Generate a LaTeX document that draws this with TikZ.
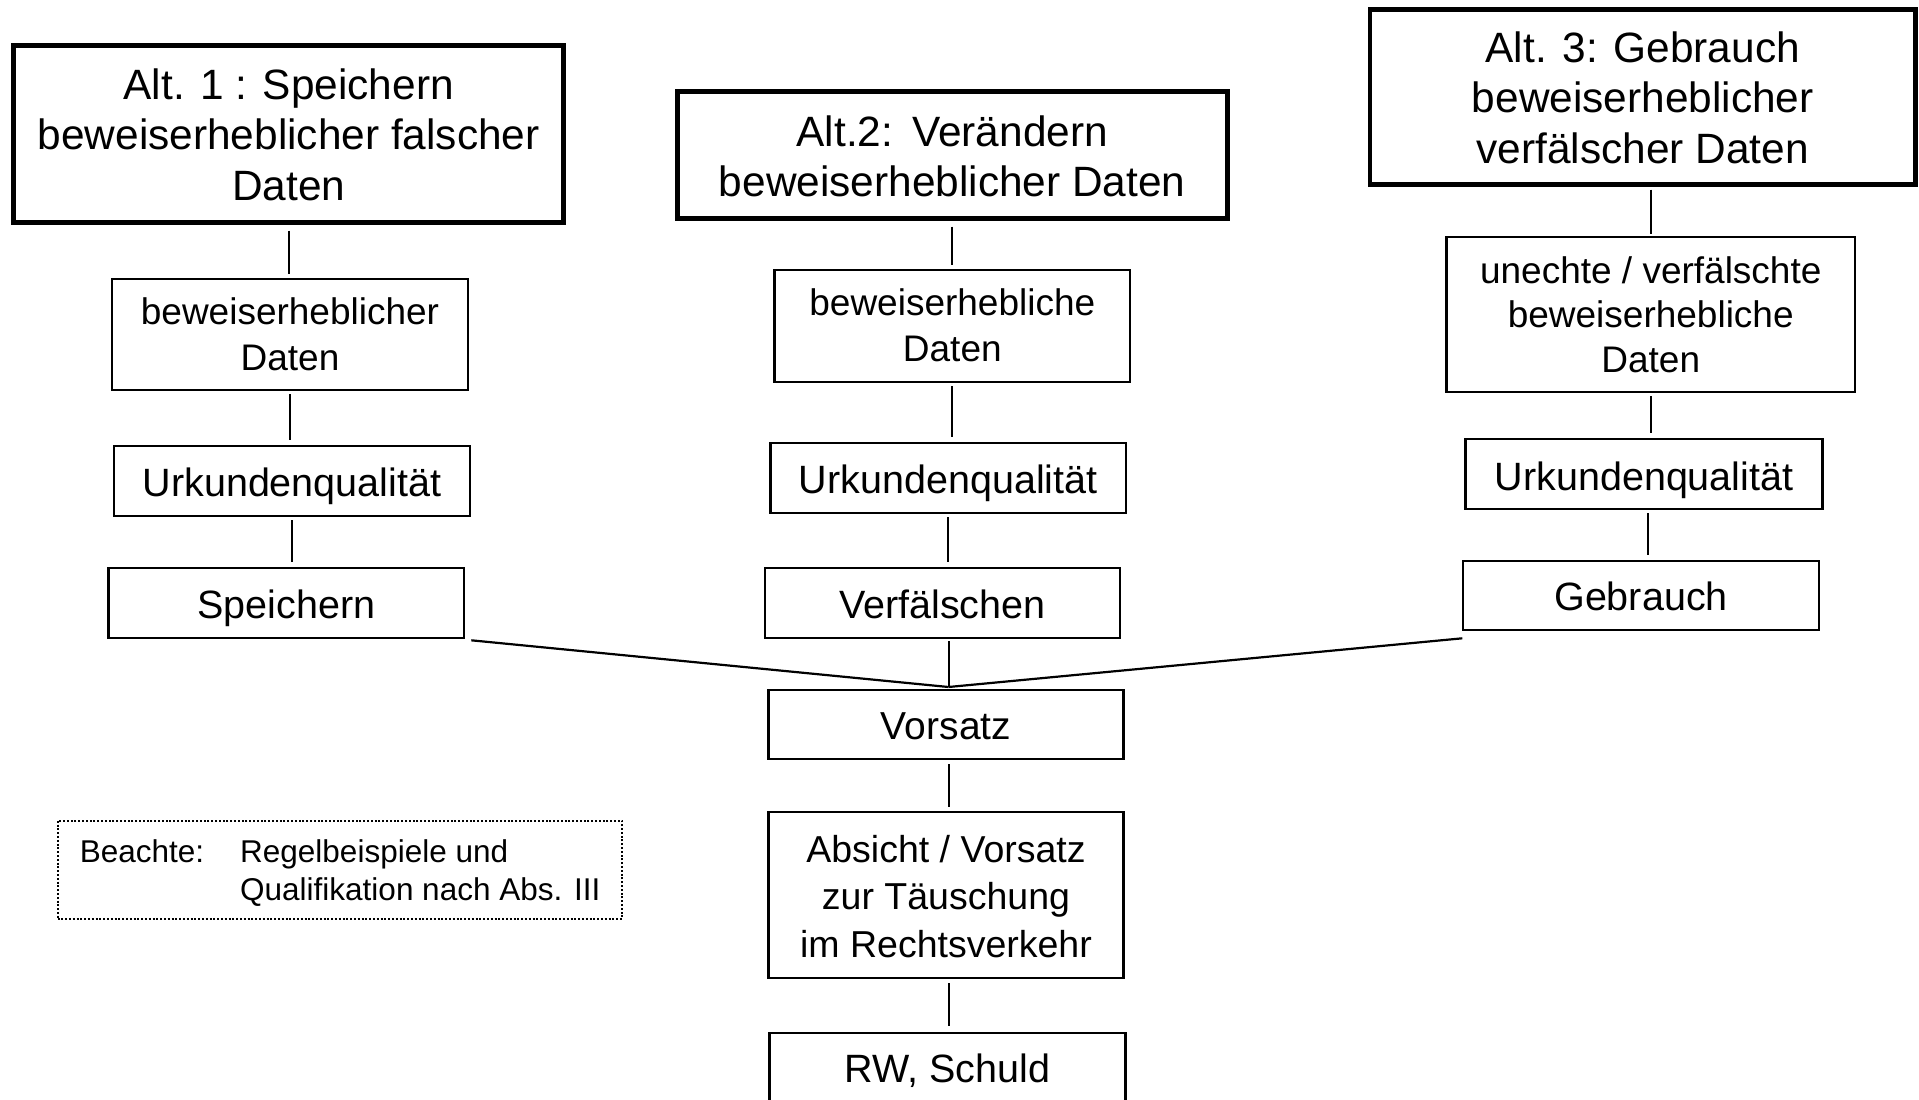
\documentclass[tikz,border=0pt]{standalone}
\usepackage{fontspec}
\setmainfont{Liberation Sans}
\begin{document}
\begin{tikzpicture}[x=1pt,y=-1pt,
  box/.style={draw=black, line width=2.6pt, rectangle, inner sep=0pt, align=center},
  altbox/.style={draw=black, line width=4.8pt, rectangle, inner sep=0pt, align=center, font=\fontsize{42.4}{50.5}\selectfont},
  fa/.style={font=\fontsize{39.5}{46}\selectfont},
  fb/.style={font=\fontsize{37}{46}\selectfont},
  up/.style={text height=#1pt, text depth=0pt},
  dn/.style={text height=0pt, text depth=#1pt},
  conn/.style={line width=2pt, shorten <=3pt, shorten >=5pt},
  altconn/.style={line width=2pt, shorten <=5.5pt, shorten >=4pt},
  diag/.style={line width=2.2pt},
  notebox/.style={draw=black, line width=2pt, dash pattern=on 2pt off 1.8pt, rectangle, inner sep=0pt},
  notetext/.style={font=\fontsize{31.5}{38}\selectfont, anchor=base west, inner sep=0pt}
]
\fill[white] (0,0) rectangle (1919,1100);
\useasboundingbox (0,0) rectangle (1919,1100);
\clip (0,0) rectangle (1919,1100);

% top boxes
\node[altbox, minimum width=549.8pt, minimum height=177.2pt, up=132] (alt1) at (288.7,134)
  {Alt. 1 :\hspace{0.36em}Speichern\\beweiserheblicher falscher\\Daten};
\node[altbox, minimum width=550.1pt, minimum height=127.2pt, up=83.4] (alt2) at (952.2,155)
  {Alt.2:\hspace{0.45em}Verändern\\beweiserheblicher Daten};
\node[altbox, minimum width=545.7pt, minimum height=175.2pt, up=132] (alt3) at (1642.75,97)
  {Alt. 3: Gebrauch\\beweiserheblicher\\verfälscher Daten};

% second row
\node[box, fb, minimum width=356pt, minimum height=111pt, up=72.4] (d1) at (290,334.5)
  {beweiserheblicher\\Daten};
\node[box, fb, minimum width=355.4pt, minimum height=112pt, up=71.4] (d2) at (952.3,326)
  {beweiserhebliche\\Daten};
\node[box, font=\fontsize{37}{44.5}\selectfont, minimum width=408.5pt, minimum height=155pt, up=115] (d3) at (1650.75,314.5)
  {unechte / verfälschte\\beweiserhebliche\\Daten};

% Urkundenqualitaet
\node[box, fa, minimum width=356pt, minimum height=70pt, up=31.4] (u1) at (292,481) {Urkundenqualität};
\node[box, fa, minimum width=355.4pt, minimum height=70pt, up=30.6] (u2) at (948.3,478) {Urkundenqualität};
\node[box, fa, minimum width=357pt, minimum height=70pt, up=32] (u3) at (1644.1,474) {Urkundenqualität};

% acts
\node[box, fa, minimum width=355.5pt, minimum height=70pt, up=30.6] (s1) at (286.25,603) {Speichern};
\node[box, fa, minimum width=355.2pt, minimum height=70pt, up=30.6] (v2) at (942.4,603) {Verfälschen};
\node[box, fa, minimum width=356pt, minimum height=69pt, up=30.4] (g3) at (1641,595.5) {Gebrauch};

% lower column
\node[box, font=\fontsize{39}{46}\selectfont, minimum width=355pt, minimum height=69pt, up=29.6] (vor) at (946,724.5) {Vorsatz};
\node[box, font=\fontsize{37.5}{47.5}\selectfont, minimum width=355pt, minimum height=166pt, up=124] (abs) at (946,895)
  {Absicht / Vorsatz\\zur Täuschung\\im Rechtsverkehr};
\node[box, fa, minimum width=355.8pt, minimum height=107pt, dn=8.4] (rw) at (947.6,1086.5) {RW, Schuld};

\coordinate (m) at (948.5,687);

% connectors left
\draw[altconn] (alt1.south) -- (alt1.south |- d1.north);
\draw[conn] (d1.south) -- (d1.south |- u1.north);
\draw[conn] (u1.south) -- (u1.south |- s1.north);
% connectors centre
\draw[altconn] (alt2.south) -- (alt2.south |- d2.north);
\draw[conn] (d2.south) -- (d2.south |- u2.north);
\draw[conn] (u2.south) -- (u2.south |- v2.north);
\draw[line width=2pt, shorten <=2pt] (v2.south -| m) -- (m);
\draw[conn, shorten <=4pt, shorten >=4pt] (vor.south -| m) -- (abs.north -| m);
\draw[conn, shorten <=4pt, shorten >=6pt] (abs.south -| m) -- (rw.north -| m);
% connectors right
\draw[line width=2pt, shorten <=2.5pt, shorten >=2pt] (alt3.south -| d3.north) -- (d3.north);
\draw[conn] (d3.south) -- (d3.south |- u3.north);
\draw[conn] ([xshift=4pt]u3.south) -- ([xshift=4pt]u3.south |- g3.north);
% diagonals
\draw[diag] ([shift={(6,1)}]s1.south east) -- (m);
\draw[diag] ([shift={(0.6,7)}]g3.south west) -- (m);

% note
\node[notebox, minimum width=564.5pt, minimum height=98.3pt] (note) at (339.75,869.85) {};
\node[notetext] (nt1) at (79.6,862) {Beachte:};
\node[notetext] (nt2) at (240,862) {Regelbeispiele und};
\node[notetext] (nt3) at (240,900) {Qualifikation nach Abs. III};
\end{tikzpicture}
\end{document}
